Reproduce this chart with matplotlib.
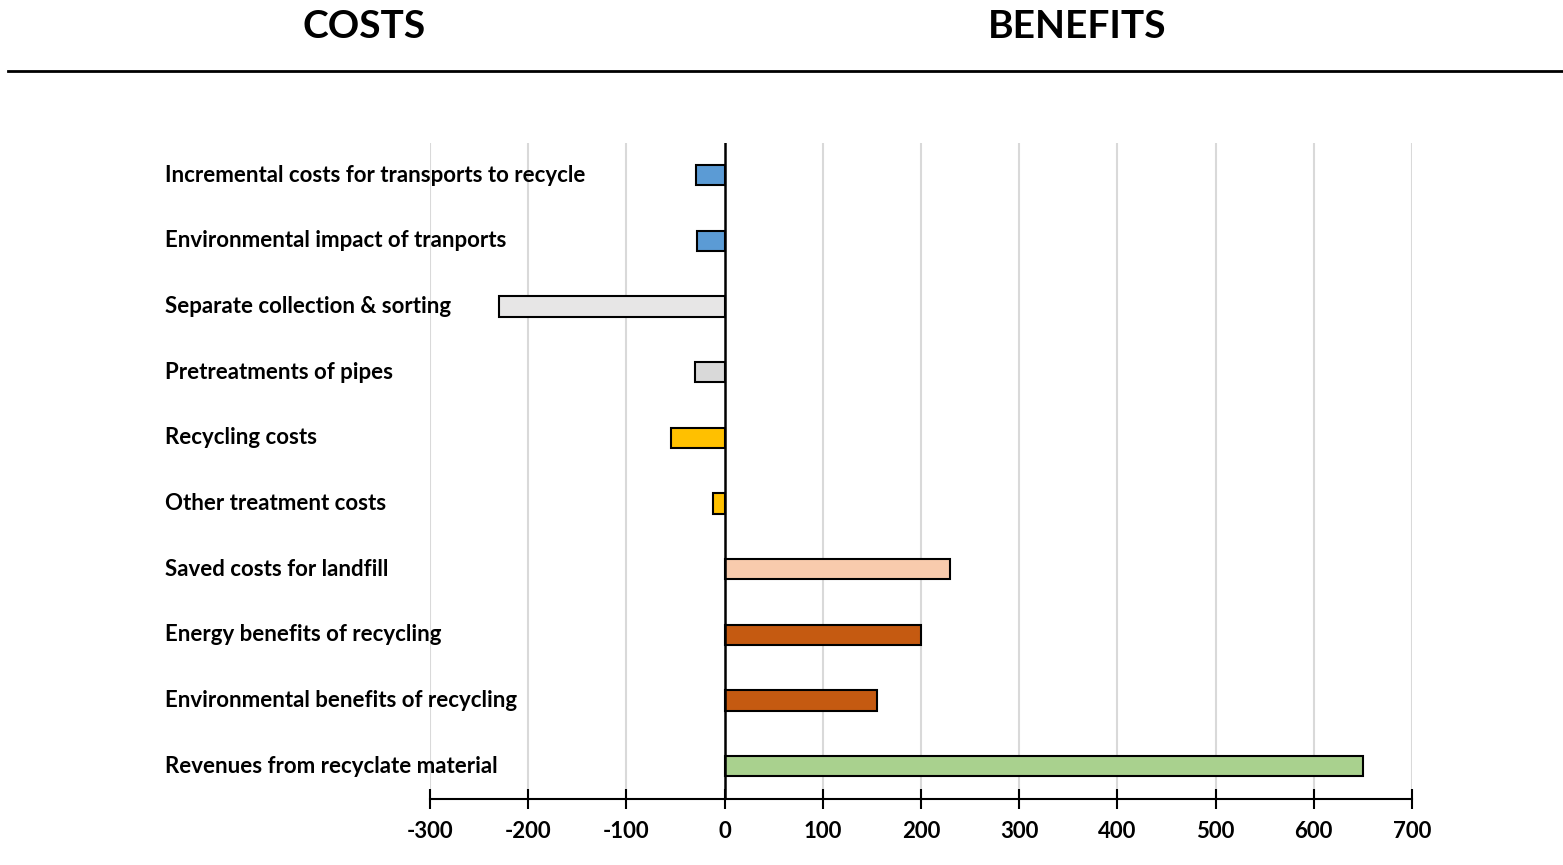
import matplotlib.pyplot as plt
from matplotlib.lines import Line2D

plt.rcParams['font.family'] = ['Lato', 'DejaVu Sans']

labels = [
    "Incremental costs for transports to recycle",
    "Environmental impact of tranports",
    "Separate collection & sorting",
    "Pretreatments of pipes",
    "Recycling costs",
    "Other treatment costs",
    "Saved costs for landfill",
    "Energy benefits of recycling",
    "Environmental benefits of recycling",
    "Revenues from recyclate material",
]
values = [-29, -28, -230, -30, -55, -12, 230, 200, 155, 650]
colors = ["#5B9BD5", "#5B9BD5", "#E7E6E6", "#D9D9D9", "#FFC000",
          "#FFC000", "#F8CBAD", "#C55A11", "#C55A11", "#A9D18E"]
ticks = [-300, -200, -100, 0, 100, 200, 300, 400, 500, 600, 700]

fig = plt.figure(figsize=(15.63, 8.65), dpi=100)
ax = fig.add_axes([430 / 1563, 1 - 799 / 865, (1412 - 430) / 1563, (799 - 143) / 865])

y = list(range(len(labels)))
ax.barh(y, values, height=0.31, color=colors, edgecolor="black", linewidth=1.5, zorder=3)

ax.set_xlim(-300, 700)
ax.set_ylim(9.5, -0.49)
ax.set_xticks(ticks)
ax.set_xticklabels([str(t) for t in ticks], fontsize=16, fontweight="bold")
ax.tick_params(axis="x", direction="inout", length=14, width=1.5, pad=9)
ax.set_yticks([])
for t in ticks:
    if t != 0:
        ax.axvline(t, color="#D9D9D9", linewidth=1.5, zorder=1)
ax.axvline(0, color="black", linewidth=1.8, zorder=4)

for s in ["top", "right", "left"]:
    ax.spines[s].set_visible(False)
ax.spines["bottom"].set_linewidth(1.5)

# category labels sit to the left of the plot, left-aligned
for i, lab in enumerate(labels):
    fig.text(165 / 1563, ax.transData.transform((0, i))[1] / 865, lab,
             ha="left", va="center", fontsize=16, fontweight="bold")

fig.text(364 / 1563, 1 - 38 / 865, "COSTS", ha="center", va="baseline",
         fontsize=28, fontweight="bold")
fig.text(1077 / 1563, 1 - 38 / 865, "BENEFITS", ha="center", va="baseline",
         fontsize=28, fontweight="bold")
fig.add_artist(Line2D([8 / 1563, 1], [1 - 71 / 865] * 2, color="black", linewidth=2))

fig.savefig("out.png", dpi=100)
